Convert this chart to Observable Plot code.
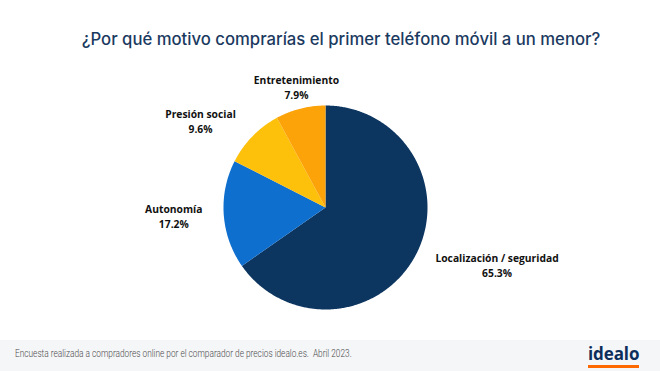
<!DOCTYPE html>
<html><head><meta charset="utf-8">
<script src="https://cdn.jsdelivr.net/npm/d3@7"></script>
<script src="https://cdn.jsdelivr.net/npm/@observablehq/plot@0.6"></script>
<style>
html,body{margin:0;padding:0;background:#fff;}
body{width:660px;height:371px;overflow:hidden;font-family:"Open Sans",sans-serif;}
#title{height:70px;box-sizing:border-box;padding-top:27px;padding-left:22px;text-align:center;color:#1b3a5f;font-size:16.7px;font-weight:500;line-height:24px;font-family:Inter,"Open Sans",sans-serif;}
#chart svg{display:block;}
#footer{height:31px;background:#f5f6f8;position:relative;}
#caption{position:absolute;left:15px;top:8px;font-family:Roboto,sans-serif;font-weight:300;font-size:10px;color:#4a4a4a;white-space:nowrap;transform:scaleX(0.83);transform-origin:0 50%;}
#logo{position:absolute;left:588px;top:3px;font-family:"Open Sans",sans-serif;font-weight:700;font-size:17px;color:#0d2e5b;letter-spacing:-0.1px;line-height:22px;}
#logo .bar{height:3px;background:#ff6a00;}
</style>
</head><body>
<div id="title">¿Por qué motivo comprarías el primer teléfono móvil a un menor?</div>
<div id="chart"></div>
<div id="footer">
  <div id="caption">Encuesta realizada a compradores online por el comparador de precios idealo.es.&nbsp; Abril 2023.</div>
  <div id="logo">idealo<div class="bar"></div></div>
</div>
<script>
const categories = ["Localización / seguridad", "Autonomía", "Presión social", "Entretenimiento"];
const values = [65.3, 17.2, 9.6, 7.9];
const colors = ["#0c3560", "#0e6fcf", "#fdc00b", "#fda30a"];

const data = categories.map((c, i) => ({category: c, value: values[i]}));
const arcs = d3.pie().sort(null).value(d => d.value)(data);

// slice outlines in unit-radius coordinates
const slicePts = [];
for (const a of arcs) {
  const key = a.data.category;
  slicePts.push({key, x: 0, y: 0});
  const n = Math.max(2, Math.ceil((a.endAngle - a.startAngle) / 0.01));
  for (let k = 0; k <= n; k++) {
    const t = a.startAngle + (a.endAngle - a.startAngle) * k / n;
    slicePts.push({key, x: Math.sin(t), y: Math.cos(t)});
  }
  slicePts.push({key, x: 0, y: 0});
}

const labelFont = "700 10.3px 'Open Sans'";
const ctx = document.createElement("canvas").getContext("2d");
ctx.font = labelFont;

const R = 1.16;
const labels = arcs.map(a => {
  const m = (a.startAngle + a.endAngle) / 2;
  const s = Math.sin(m), c = Math.cos(m);
  const lines = [a.data.category, `${a.data.value.toFixed(1)}%`];
  const w = Math.max(...lines.map(t => ctx.measureText(t).width));
  const side = s > 0.3 ? 1 : s < -0.3 ? -1 : 0;
  return {
    x: R * s, y: R * c,
    text: lines.join("\n"),
    dx: side * (w / 2 + 5),
    dy: -c * 6
  };
});

const rpx = 102, cx = 325, cyTop = 137, W = 660, H = 270;
const chart = Plot.plot({
  width: W, height: H,
  margin: 0,
  x: {domain: [-cx / rpx, (W - cx) / rpx], axis: null},
  y: {domain: [-(H - cyTop) / rpx, cyTop / rpx], axis: null},
  color: {domain: categories, range: colors},
  marks: [
    Plot.line(slicePts, {x: "x", y: "y", z: "key", fill: "key", stroke: "none", curve: "linear"}),
    ...labels.map(l => Plot.text([l], {
      x: "x", y: "y", text: "text", textAnchor: "middle", dx: l.dx, dy: l.dy,
      lineAnchor: "middle", lineHeight: 1.45,
      fontSize: 10.3, fontWeight: 700, fill: "#111",
      fontFamily: "Open Sans"
    }))
  ]
});
document.getElementById("chart").appendChild(chart);
</script>
</body></html>
